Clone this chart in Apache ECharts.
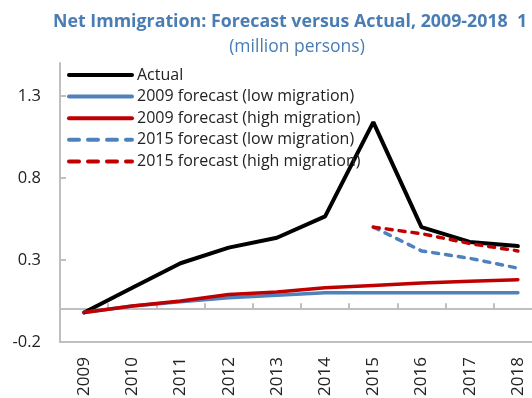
<!DOCTYPE html>
<html>
<head>
<meta charset="utf-8">
<script src="https://cdn.jsdelivr.net/npm/echarts@6/dist/echarts.min.js"></script>
<style>
  html, body { margin: 0; padding: 0; background: #fff; }
  #chart { width: 532px; height: 398px; }
</style>
</head>
<body>
<div id="chart"></div>
<script>
// Net immigration, million persons
const years = ['2009', '2010', '2011', '2012', '2013', '2014', '2015', '2016', '2017', '2018'];
const actual = [-0.02, 0.13, 0.28, 0.375, 0.435, 0.565, 1.14, 0.50, 0.41, 0.385];
const forecast2009Low = [-0.02, 0.02, 0.045, 0.07, 0.085, 0.10, 0.10, 0.10, 0.10, 0.10];
const forecast2009High = [-0.02, 0.02, 0.05, 0.09, 0.105, 0.13, 0.145, 0.16, 0.17, 0.18];
const forecast2015Low = [null, null, null, null, null, null, 0.50, 0.355, 0.31, 0.25];
const forecast2015High = [null, null, null, null, null, null, 0.50, 0.46, 0.40, 0.355];
const yTicks = [-0.2, 0.3, 0.8, 1.3];

const BLUE = '#4f81bd';
const RED = '#c00000';
const AXIS = '#bfbfbf';
const FONT = '"Open Sans", "Noto Sans", sans-serif';

const chart = echarts.init(document.getElementById('chart'), null, { renderer: 'canvas' });

function lineSeries(name, data, color, width, dashed) {
  return {
    name: name,
    type: 'line',
    xAxisIndex: 1,
    data: data,
    symbol: 'none',
    showSymbol: false,
    connectNulls: false,
    lineStyle: { color: color, width: width, type: dashed ? [6, 7] : 'solid', cap: 'round' },
    itemStyle: { color: color },
    emphasis: { disabled: true },
    animation: false
  };
}

function legendItem(name, color, width, dashed) {
  return {
    name: name,
    itemStyle: { opacity: 0 },
    lineStyle: { color: color, width: width, type: dashed ? [10, 9] : 'solid', cap: 'round' }
  };
}

chart.setOption({
  animation: false,
  title: [
    {
      text: 'Net Immigration: Forecast versus Actual, 2009-2018  1',
      left: 48, top: 8,
      textStyle: { fontFamily: FONT, fontSize: 17.8, fontWeight: 'bold', color: '#4a7db4' }
    },
    {
      text: '(million persons)',
      left: 292, top: 33, textAlign: 'center',
      textStyle: { fontFamily: FONT, fontSize: 17.5, fontWeight: 'normal', color: '#4a7db4' }
    }
  ],
  legend: {
    orient: 'vertical',
    left: 62, top: 62,
    itemWidth: 63, itemHeight: 16, itemGap: 5.6,
    itemStyle: { opacity: 0 },
    lineStyle: { width: 'inherit' },
    textStyle: { fontFamily: FONT, fontSize: 16, color: '#222', lineHeight: 16 },
    data: [
      legendItem('Actual', '#000000', 4, false),
      legendItem('2009 forecast (low migration)', BLUE, 4, false),
      legendItem('2009 forecast (high migration)', RED, 4, false),
      legendItem('2015 forecast (low migration)', BLUE, 4, true),
      legendItem('2015 forecast (high migration)', RED, 4, true)
    ]
  },
  grid: { left: 60, top: 63, width: 482, height: 279, containLabel: false, outerBoundsMode: 'none' },
  xAxis: [
    {
      // bottom frame line carrying the year labels
      type: 'category', data: years, position: 'bottom',
      axisLine: { onZero: false, lineStyle: { color: AXIS, width: 2 } },
      axisTick: { show: false },
      axisLabel: { rotate: 90, margin: 15, fontFamily: FONT, fontSize: 17, color: '#222' }
    },
    {
      // zero line with inward ticks between years
      type: 'category', data: years, position: 'bottom',
      axisLine: { onZero: true, lineStyle: { color: AXIS, width: 2 } },
      axisTick: { show: true, inside: true, length: 6, lineStyle: { color: AXIS, width: 2 } },
      axisLabel: { show: false }
    }
  ],
  yAxis: {
    type: 'value', min: -0.2, max: 1.5, interval: 0.5,
    axisLine: { show: true, onZero: false, lineStyle: { color: AXIS, width: 2 } },
    axisTick: { show: true, inside: true, length: 6, customValues: yTicks, lineStyle: { color: AXIS, width: 2 } },
    axisLabel: {
      customValues: yTicks, margin: 19, fontFamily: FONT, fontSize: 16.5, color: '#222',
      formatter: v => v.toFixed(1)
    },
    splitLine: { show: false }
  },
  series: [
    lineSeries('Actual', actual, '#000000', 4, false),
    lineSeries('2009 forecast (low migration)', forecast2009Low, BLUE, 3.5, false),
    lineSeries('2009 forecast (high migration)', forecast2009High, RED, 3.5, false),
    lineSeries('2015 forecast (low migration)', forecast2015Low, BLUE, 3.5, true),
    lineSeries('2015 forecast (high migration)', forecast2015High, RED, 3.5, true)
  ]
});
</script>
</body>
</html>
